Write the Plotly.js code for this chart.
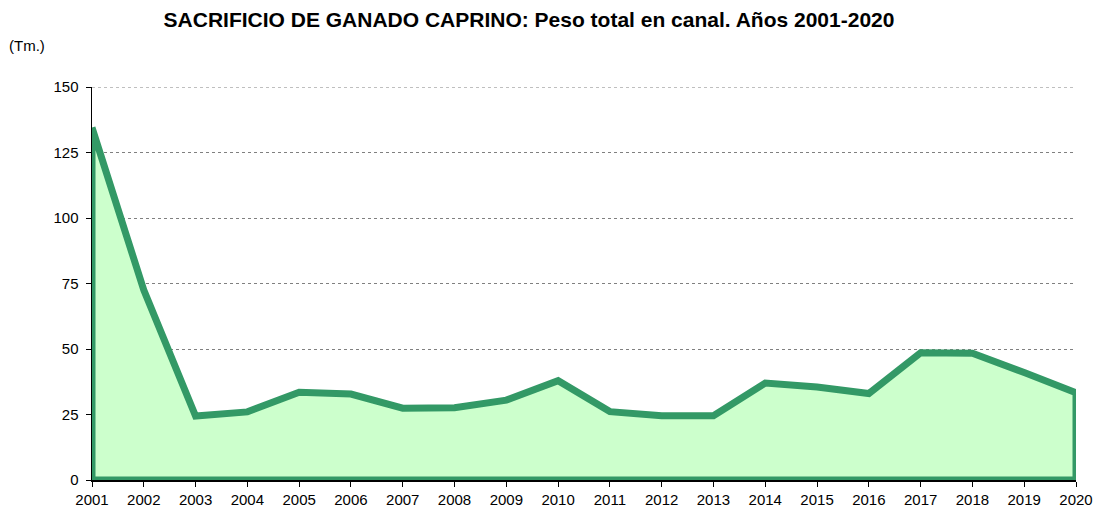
<!DOCTYPE html>
<html>
<head>
<meta charset="utf-8">
<script src="https://cdn.plot.ly/plotly-3.0.1.min.js"></script>
<style>html,body{margin:0;padding:0;background:#fff;}#chart{width:1098px;height:507px;}</style>
</head>
<body>
<div id="chart"></div>
<script>
const years = [2001,2002,2003,2004,2005,2006,2007,2008,2009,2010,2011,2012,2013,2014,2015,2016,2017,2018,2019,2020];
const peso = [134.5,72.5,24.4,26,33.5,32.8,27.4,27.6,30.5,37.9,26.1,24.5,24.5,37,35.5,33,48.6,48.4,41,33.3];
const yTicks = [0,25,50,75,100,125,150];

const xs = years.concat([years[years.length-1], years[0], years[0]]);
const ys = peso.concat([0, 0, peso[0]]);

const trace = {
  x: xs, y: ys, type: 'scatter', mode: 'lines',
  fill: 'toself', fillcolor: '#CCFFCC',
  line: {color: '#339966', width: 7},
  hoverinfo: 'skip'
};

const layout = {
  width: 1098, height: 507,
  margin: {l: 92, r: 22, t: 87, b: 27},
  paper_bgcolor: '#fff', plot_bgcolor: '#fff',
  font: {family: 'Liberation Sans, Arial, sans-serif', size: 15, color: '#000'},
  title: {text: '<b>SACRIFICIO DE GANADO CAPRINO: Peso total en canal. Años 2001-2020</b>',
          font: {size: 21, color: '#000'}, x: 529/1098, xref: 'container', xanchor: 'center',
          y: 1 - 20/507, yref: 'container', yanchor: 'middle'},
  showlegend: false,
  xaxis: {
    range: [2001, 2020], tickmode: 'array', tickvals: years, ticktext: years.map(String),
    showgrid: false, zeroline: false, showline: true, linecolor: '#000', linewidth: 1.5,
    ticks: 'outside', ticklen: 5, tickcolor: '#000', tickfont: {size: 15}
  },
  yaxis: {
    range: [0, 150], tickmode: 'array', tickvals: yTicks, ticktext: yTicks.map(String),
    showgrid: true, gridcolor: '#808080', griddash: 'dot', gridwidth: 1,
    zeroline: false, showline: true, linecolor: '#000', linewidth: 1.5,
    ticks: 'outside', ticklen: 5, tickcolor: '#000', tickfont: {size: 15},
    ticklabelstandoff: 4
  },
  shapes: [{
    type: 'line', xref: 'paper', yref: 'y', x0: 0, x1: 1, y0: 150, y1: 150,
    line: {color: '#808080', width: 1, dash: 'dot'}, layer: 'below'
  }],
  annotations: [{
    text: '(Tm.)', xref: 'paper', yref: 'paper', x: -0.086, y: 1.105,
    xanchor: 'left', yanchor: 'middle', showarrow: false, font: {size: 15}
  }]
};

Plotly.newPlot('chart', [trace], layout, {displayModeBar: false, staticPlot: true});
</script>
</body>
</html>
